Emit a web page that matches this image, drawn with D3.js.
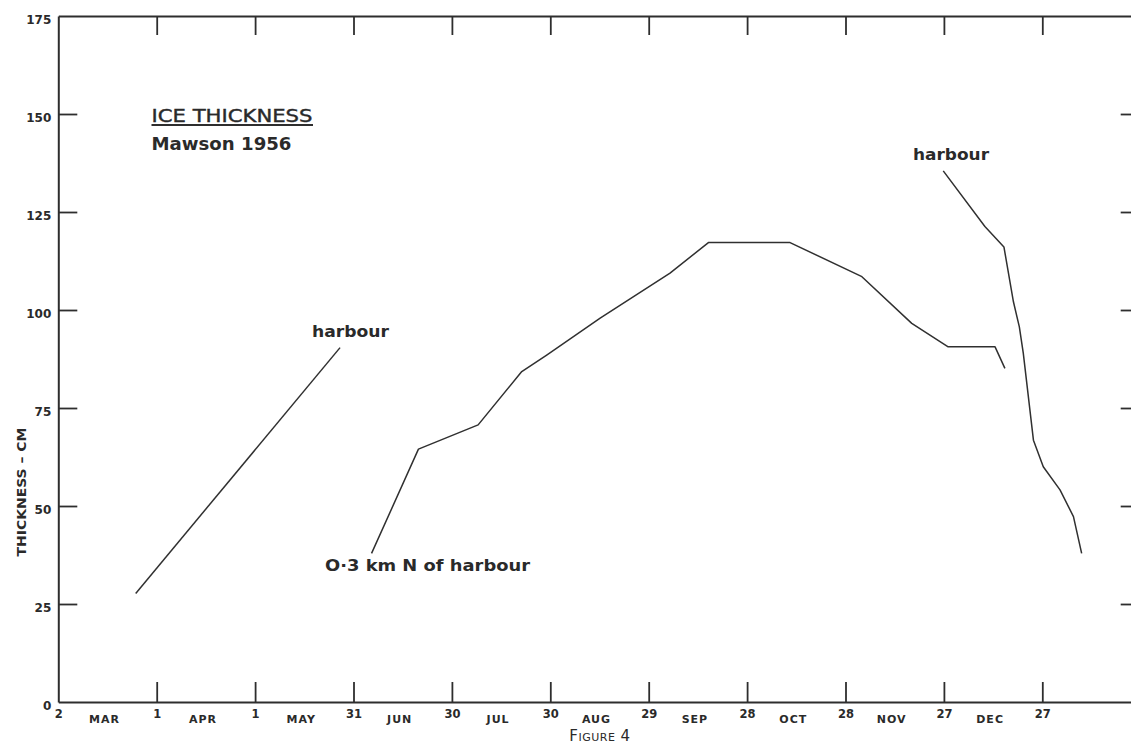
<!DOCTYPE html>
<html>
<head>
<meta charset="utf-8">
<script src="https://cdn.jsdelivr.net/npm/d3@7"></script>
<style>
  html, body { margin: 0; padding: 0; background: #ffffff; }
  svg { display: block; }
  text { font-family: "DejaVu Sans", sans-serif; fill: #2a2a2a; }
</style>
</head>
<body>
<svg id="chart" width="1131" height="747"></svg>
<script>
// ---- data (x = days after 2 March 1956, y = thickness in cm) ----
const harbourEarlyDays   = [23.6, 85.9];
const harbourEarlyValues = [27.7, 90.4];

const northDays   = [95.5, 109.8, 128.0, 141.3, 148.9, 165.2, 186.5, 198.2, 223.1, 245.0, 260.2, 271.3, 285.6, 288.6];
const northValues = [37.9, 64.5, 70.7, 84.3, 88.5, 97.9, 109.4, 117.2, 117.2, 108.5, 96.6, 90.6, 90.6, 85.1];

const harbourLateDays   = [269.8, 282.5, 288.3, 291.2, 293.0, 294.2, 297.3, 300.3, 305.4, 309.5, 312.0];
const harbourLateValues = [135.5, 121.3, 116.1, 102.1, 95.7, 89.0, 66.8, 60.0, 54.1, 47.3, 37.9];

const xTickDays   = [0, 30, 60, 90, 120, 150, 180, 210, 240, 270, 300];
const xTickLabels = ["2", "1", "1", "31", "30", "30", "29", "28", "28", "27", "27"];
const monthLabels = ["MAR", "APR", "MAY", "JUN", "JUL", "AUG", "SEP", "OCT", "NOV", "DEC"];
const yTickValues = [0, 25, 50, 75, 100, 125, 150, 175];
const yTickLabels = ["0", "25", "50", "75", "100", "125", "150", "175"];
const rightTickValues = [25, 50, 75, 100, 125, 150];

// ---- layout ----
const svg = d3.select("#chart");
const x = d3.scaleLinear().domain([0, 330]).range([58.3, 58.3 + 330 * 3.28]);
const y = d3.scaleLinear().domain([0, 175]).range([702, 16]);
const ink = "#2e2e2e";

function styleAxis(g) {
  g.selectAll("path.domain").attr("stroke", ink).attr("stroke-width", 2);
  g.selectAll(".tick line").attr("stroke", ink).attr("stroke-width", 1.8);
}

// bottom axis
const gB = svg.append("g").attr("transform", `translate(0,${y(0)})`)
  .call(d3.axisBottom(x).tickValues(xTickDays).tickSizeInner(-20).tickSizeOuter(0)
    .tickPadding(8).tickFormat((d, i) => xTickLabels[i]));
styleAxis(gB);
gB.selectAll(".tick text").attr("font-size", 11.5).attr("font-weight", "bold")
  .attr("fill", ink).attr("font-family", "DejaVu Sans, sans-serif");
gB.selectAll(".tick").filter(d => d === 0).select("line").remove();

// month labels between ticks
svg.append("g").selectAll("text").data(monthLabels).join("text")
  .attr("x", (d, i) => (x(xTickDays[i]) + x(xTickDays[i + 1])) / 2 - 3)
  .attr("y", 722.5)
  .attr("text-anchor", "middle")
  .attr("font-size", 11).attr("font-weight", "bold").attr("letter-spacing", 1)
  .text(d => d);

// top axis
const gT = svg.append("g").attr("transform", `translate(0,${y(175)})`)
  .call(d3.axisTop(x).tickValues(xTickDays.slice(1)).tickSizeInner(-19).tickSizeOuter(0).tickFormat(""));
styleAxis(gT);

// left axis
const gL = svg.append("g").attr("transform", `translate(${x(0)},0)`)
  .call(d3.axisLeft(y).tickValues(yTickValues).tickSizeInner(-19).tickSizeOuter(0)
    .tickPadding(7).tickFormat((d, i) => yTickLabels[i]));
styleAxis(gL);
gL.selectAll(".tick text").attr("font-size", 12).attr("font-weight", "bold")
  .attr("fill", ink).attr("dy", "0.6em").attr("font-family", "DejaVu Sans, sans-serif");
gL.selectAll(".tick").filter(d => d === 0 || d === 175).select("line").remove();

// right axis (frame edge lies just beyond the picture)
const gR = svg.append("g").attr("transform", `translate(${x(330)},0)`)
  .call(d3.axisRight(y).tickValues(rightTickValues).tickSizeInner(-20).tickSizeOuter(0).tickFormat(""));
styleAxis(gR);

// series lines
const line = d3.line().x(d => x(d[0])).y(d => y(d[1]));
const zip = (a, b) => a.map((v, i) => [v, b[i]]);
[[harbourEarlyDays, harbourEarlyValues], [northDays, northValues], [harbourLateDays, harbourLateValues]]
  .forEach(([ds, vs]) => {
    svg.append("path").datum(zip(ds, vs)).attr("d", line)
      .attr("fill", "none").attr("stroke", "#303030").attr("stroke-width", 1.5)
      .attr("stroke-linejoin", "round");
  });

// series labels
function label(txt, xx, yy, len) {
  svg.append("text").attr("x", xx).attr("y", yy).attr("font-size", 15).attr("font-weight", "bold")
    .attr("textLength", len).attr("lengthAdjust", "spacingAndGlyphs").text(txt);
}
label("harbour", 312, 337, 77);
label("harbour", 913, 160, 76);
label("O·3 km N of harbour", 325, 571, 205);

// title
svg.append("text").attr("x", 151.5).attr("y", 121.7).attr("font-size", 17.5)
  .attr("stroke", "#2a2a2a").attr("stroke-width", 0.4)
  .attr("textLength", 161).attr("lengthAdjust", "spacingAndGlyphs").text("ICE THICKNESS");
svg.append("line").attr("x1", 151.5).attr("x2", 313).attr("y1", 125).attr("y2", 125)
  .attr("stroke", ink).attr("stroke-width", 2);
svg.append("text").attr("x", 151.5).attr("y", 150).attr("font-size", 17.5).attr("font-weight", "bold")
  .attr("textLength", 140).attr("lengthAdjust", "spacingAndGlyphs").text("Mawson  1956");

// y-axis title
svg.append("text").attr("transform", "translate(26,492) rotate(-90)")
  .attr("text-anchor", "middle").attr("font-size", 11.5).attr("font-weight", "bold")
  .attr("textLength", 129).attr("lengthAdjust", "spacingAndGlyphs").text("THICKNESS – CM");

// figure caption
svg.append("text").attr("x", 600).attr("y", 741).attr("text-anchor", "middle")
  .attr("font-size", 15).attr("letter-spacing", 0.5).style("font-variant", "small-caps").text("Figure 4");
</script>
</body>
</html>
